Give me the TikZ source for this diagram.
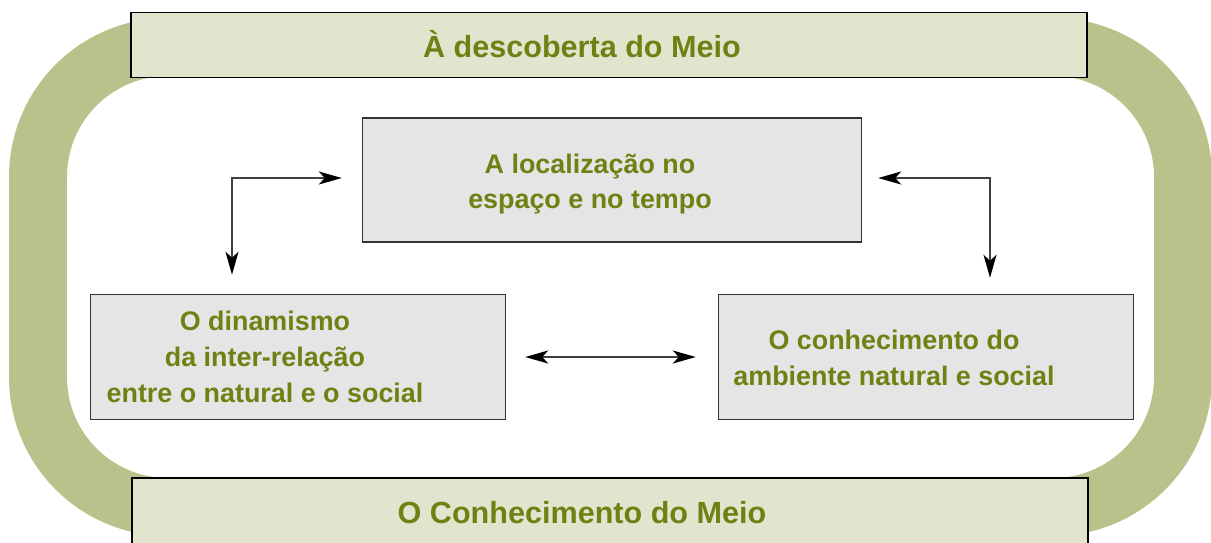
\documentclass[tikz,border=0pt]{standalone}
\usepackage{fontspec}
\setmainfont{Liberation Sans}
\usetikzlibrary{arrows.meta}

\definecolor{ringgreen}{RGB}{184,194,138}
\definecolor{bannerfill}{RGB}{225,229,206}
\definecolor{boxgray}{RGB}{229,229,229}
\definecolor{textolive}{RGB}{110,130,20}
\definecolor{arrowgray}{RGB}{64,64,64}

\tikzset{
  ring/.style={draw=ringgreen, line width=1.16cm, rounded corners=2.6cm},
  banner/.style={draw=black, fill=bannerfill, line width=0.03cm, minimum width=19.12cm, inner sep=0pt},
  topic/.style={draw=black!80, fill=boxgray, line width=0.03cm, minimum width=8.3cm, minimum height=2.5cm, inner sep=0pt},
  headline/.style={text=textolive, font=\bfseries\fontsize{17.4}{20}\selectfont, inner sep=0pt},
  words/.style={text=textolive, font=\bfseries\fontsize{15.3}{20.4}\selectfont, align=center, inner sep=0pt},
  link/.style={draw=arrowgray, line width=0.04cm, {Stealth[length=0.46cm, width=0.26cm, inset=0.12cm, black]}-{Stealth[length=0.46cm, width=0.26cm, inset=0.12cm, black]}},
}

\begin{document}
\begin{tikzpicture}[x=0.02cm, y=-0.02cm]

\useasboundingbox (0,0) rectangle (1211,542);
\clip (0,0) rectangle (1211,542);

% outer frame
\draw[ring] (38,47) rectangle (1183,507);

\node[banner, minimum height=1.31cm] (topbar) at (609,45) {};
\node[banner, minimum height=1.6cm] (bottombar) at (610,518) {};
\node[headline, anchor=base] (toptitle) at (582,57) {À descoberta do Meio};
\node[headline, anchor=base] (bottomtitle) at (582,523) {O Conhecimento do Meio};

% the three themes
\node[topic, minimum width=9.98cm, minimum height=2.48cm] (place) at (612,180) {};
\node[topic] (dynamics) at (298,357) {};
\node[topic] (knowledge) at (926,357) {};

\node[words] (placetext) at (590,184) {A localização no\\espaço e no tempo};
\node[words] (dynamicstext) at (265,357) {O dinamismo\\da inter-relação\\entre o natural e o social};
\node[words] (knowledgetext) at (894,358) {O conhecimento do\\ambiente natural e social};

\coordinate (lc) at (232,178);
\coordinate (rc) at (990,178);

\draw[link, shorten <=0.4cm, shorten >=0.38cm] (place.west |- lc) -- (lc) -- (lc |- dynamics.north);
\draw[link, shorten <=0.32cm, shorten >=0.32cm] (place.east |- rc) -- (rc) -- (rc |- knowledge.north);
\draw[link, shorten <=0.38cm, shorten >=0.44cm] (dynamics.east) -- (knowledge.west);

\end{tikzpicture}
\end{document}
